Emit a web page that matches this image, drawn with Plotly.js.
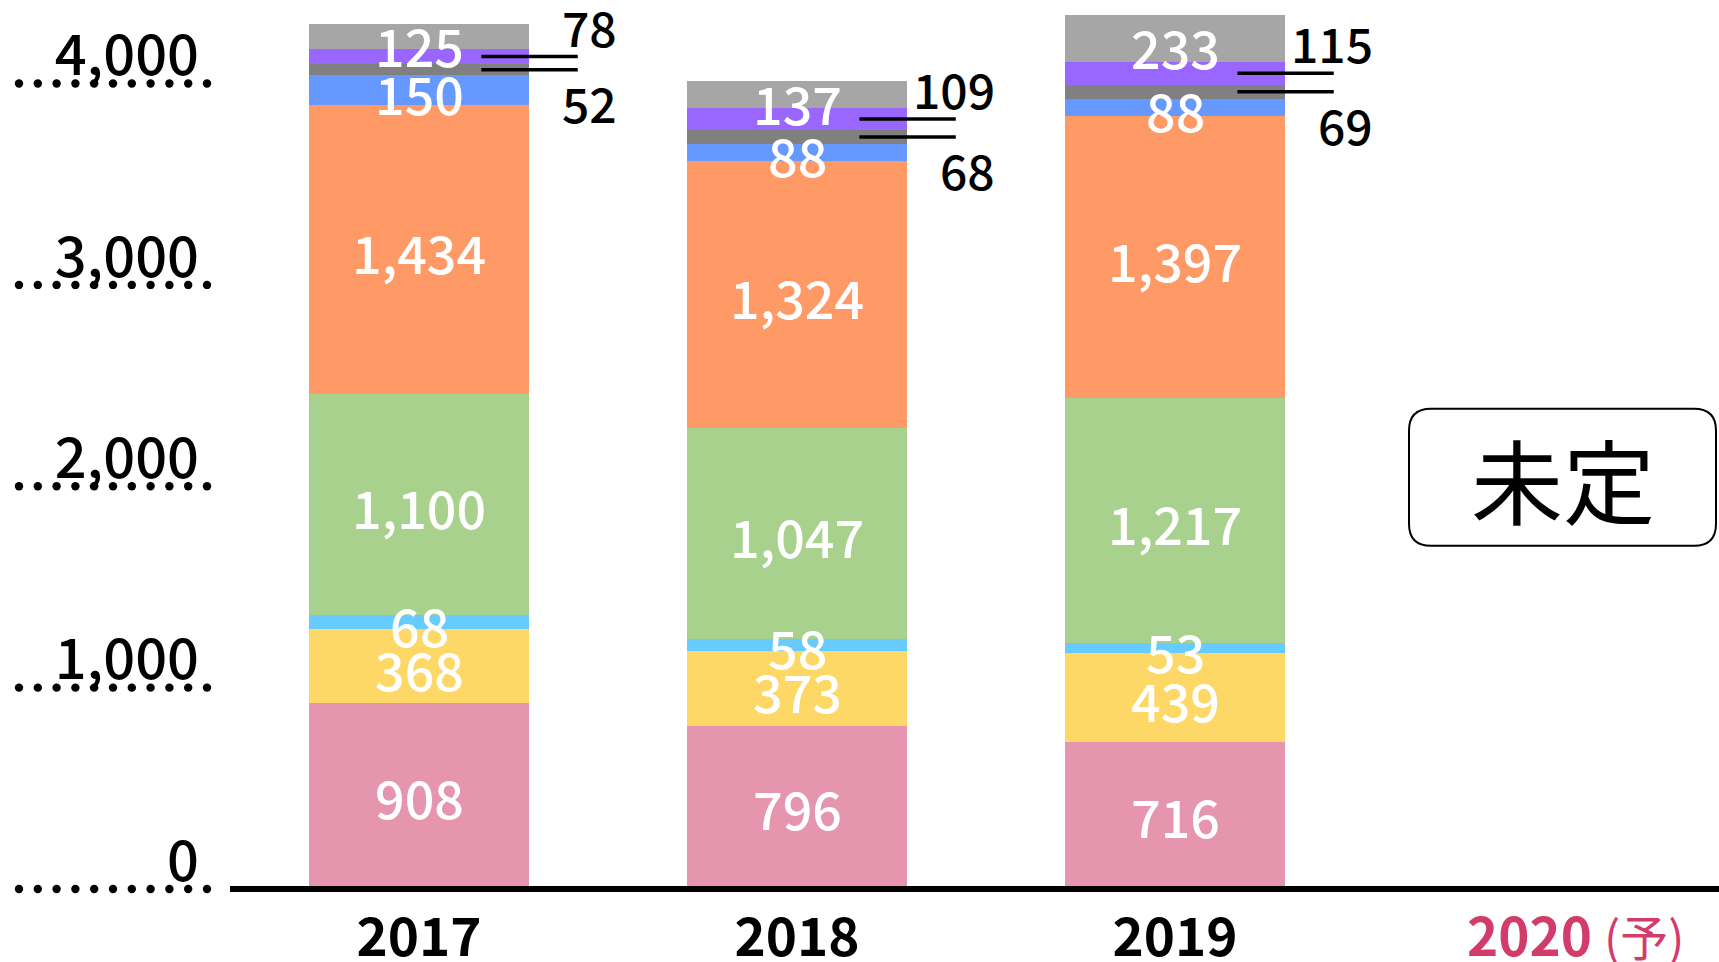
<!DOCTYPE html>
<html>
<head>
<meta charset="utf-8">
<script src="https://cdn.plot.ly/plotly-3.0.1.min.js"></script>
<style>
html,body{margin:0;padding:0;background:#fff;}
#chart{width:1719px;height:962px;}
</style>
</head>
<body>
<div id="chart"></div>
<script>
// ---- data ----
const categories = ['2017', '2018', '2019', '2020'];
const pinkSeries      = [908, 796, 716];
const yellowSeries    = [368, 373, 439];
const lightBlueSeries = [68, 58, 53];
const greenSeries     = [1100, 1047, 1217];
const orangeSeries    = [1434, 1324, 1397];
const blueSeries      = [150, 88, 88];
const darkGraySeries  = [52, 68, 69];
const purpleSeries    = [78, 109, 115];
const lightGraySeries = [125, 137, 233];
const yTickVals = [0, 1000, 2000, 3000, 4000];
const yTickText = ['0', '1,000', '2,000', '3,000', '4,000'];
const forecastSuffix = '(予)';
const pendingText = '未定';

// ---- styling ----
const FONT = '"Noto Sans CJK JP", "Noto Sans", sans-serif';
const seriesDefs = [
  {name: 'pink', values: pinkSeries, color: '#E695AE', label: 'inside'},
  {name: 'yellow', values: yellowSeries, color: '#FED866', label: 'inside'},
  {name: 'lightblue', values: lightBlueSeries, color: '#66CCFF', label: 'inside'},
  {name: 'green', values: greenSeries, color: '#A9D18E', label: 'inside'},
  {name: 'orange', values: orangeSeries, color: '#FF9966', label: 'inside'},
  {name: 'blue', values: blueSeries, color: '#6699FF', label: 'inside'},
  {name: 'darkgray', values: darkGraySeries, color: '#808080', label: 'below'},
  {name: 'purple', values: purpleSeries, color: '#9966FF', label: 'above'},
  {name: 'lightgray', values: lightGraySeries, color: '#A6A6A6', label: 'top'}
];

const nBars = pinkSeries.length;
const xIdx = [...Array(nBars).keys()];
const BAR_W = 0.58;
const Y_RANGE = [0, 4400];
const M = {l: 230, r: 0, t: 0, b: 76};
const W = 1719, H = 962;
const plotW = W - M.l - M.r;
const fmt = v => v.toLocaleString('en-US');

const traces = [];
const annotations = [];
const shapes = [];
const base = xIdx.map(() => 0);

seriesDefs.forEach(s => {
  traces.push({
    type: 'bar', name: s.name, x: xIdx, y: s.values, width: BAR_W,
    marker: {color: s.color, line: {width: 0}}, hoverinfo: 'x+y'
  });
  xIdx.forEach(i => {
    const v = s.values[i];
    const mid = base[i] + v / 2;
    if (s.label === 'inside' || s.label === 'top') {
      annotations.push({
        x: i, y: mid, xref: 'x', yref: 'y', text: fmt(v), showarrow: false,
        yshift: s.label === 'top' ? -8 : -2,
        font: {family: FONT, size: 52, color: '#ffffff', weight: 500}
      });
    } else {
      shapes.push({
        type: 'line', xref: 'x', yref: 'y', x0: i + 0.165, x1: i + 0.42, y0: mid, y1: mid,
        line: {color: '#000', width: 3.5}
      });
      annotations.push({
        x: i + 0.53, y: mid, xref: 'x', yref: 'y', xanchor: 'right', text: fmt(v),
        showarrow: false, yshift: s.label === 'above' ? 31 : -32,
        font: {family: FONT, size: 48, color: '#000', weight: 500}
      });
    }
    base[i] += v;
  });
});

// dotted leaders for y ticks (decorative round dots in the left margin)
const DOT_N = 11, DOT_START = 19, DOT_STEP = 18.8, DOT_R = 4.2, DOT_DY = -3;
yTickVals.forEach(v => {
  const yPaper = (v - Y_RANGE[0]) / (Y_RANGE[1] - Y_RANGE[0]);
  for (let k = 0; k < DOT_N; k++) {
    const cx = DOT_START + k * DOT_STEP - M.l;
    shapes.push({
      type: 'circle', xref: 'paper', yref: 'paper', xsizemode: 'pixel', ysizemode: 'pixel',
      xanchor: 0, yanchor: yPaper,
      x0: cx - DOT_R, x1: cx + DOT_R, y0: DOT_DY - DOT_R, y1: DOT_DY + DOT_R,
      fillcolor: '#000', line: {width: 0}, layer: 'above'
    });
  }
});

// pending box for the last category
const boxX = categories.length - 1;
const boxY = 2030;
const bw = 153.5, bh = 68.5, r = 22, dx = 9.5;
const x0 = dx - bw, x1 = dx + bw, y0 = -bh, y1 = bh;
shapes.push({
  type: 'path', xref: 'x', yref: 'y', xsizemode: 'pixel', ysizemode: 'pixel',
  xanchor: boxX, yanchor: boxY,
  path: `M${x0 + r},${y0} L${x1 - r},${y0} Q${x1},${y0} ${x1},${y0 + r} L${x1},${y1 - r} Q${x1},${y1} ${x1 - r},${y1} L${x0 + r},${y1} Q${x0},${y1} ${x0},${y1 - r} L${x0},${y0 + r} Q${x0},${y0} ${x0 + r},${y0} Z`,
  line: {color: '#000', width: 2}, fillcolor: 'rgba(0,0,0,0)'
});
annotations.push({
  x: boxX, y: boxY, xref: 'x', yref: 'y', xshift: dx, text: pendingText, showarrow: false,
  font: {family: FONT, size: 92, color: '#000'}
});

const tickText = categories.map((c, i) =>
  i === categories.length - 1
    ? `<span style="color:#D33B6B">${c} <span style="font-size:48px;font-weight:400">${forecastSuffix}</span></span>`
    : c);

const layout = {
  width: W, height: H, margin: M, barmode: 'stack', bargap: 0,
  showlegend: false, paper_bgcolor: '#fff', plot_bgcolor: '#fff',
  xaxis: {
    range: [-0.5, -0.5 + plotW / 378], tickvals: [0, 1, 2, 3.06], ticktext: tickText,
    showline: true, linecolor: '#000', linewidth: 6, ticks: '', showgrid: false, zeroline: false,
    fixedrange: true, ticklabelstandoff: 0,
    tickfont: {family: FONT, size: 53, color: '#000', weight: 700}
  },
  yaxis: {
    range: Y_RANGE, tickvals: yTickVals, ticktext: yTickText, showgrid: false,
    zeroline: false, showline: false, ticks: '', ticklabelstandoff: 30, ticklabelshift: -25,
    fixedrange: true,
    tickfont: {family: FONT, size: 56, color: '#000', weight: 500}
  },
  shapes: shapes,
  annotations: annotations
};

Plotly.newPlot('chart', traces, layout, {displayModeBar: false, staticPlot: true});
</script>
</body>
</html>
